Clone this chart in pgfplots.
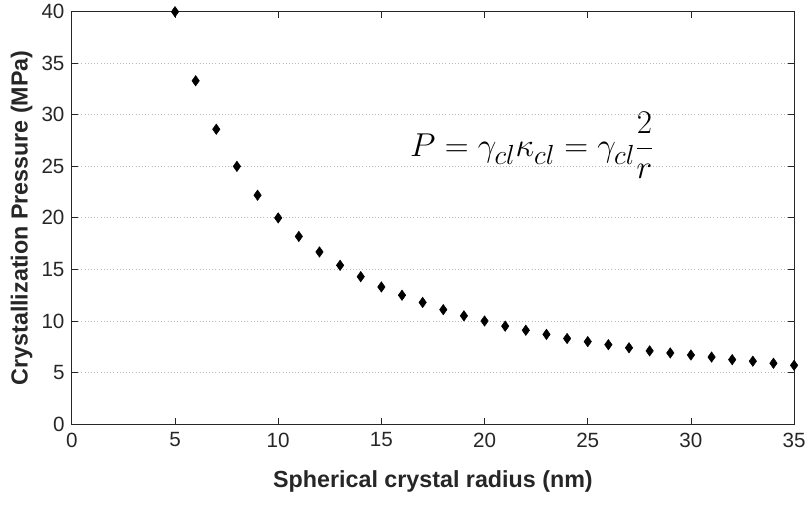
\documentclass[border=0pt]{standalone}
\usepackage{pgfplots}
\pgfplotsset{compat=1.18}
\usepackage{fontspec}
\setmainfont{Liberation Sans}
\definecolor{axgray}{RGB}{38,38,38}
\begin{document}
\begin{tikzpicture}
\begin{axis}[
  scale only axis,
  width=543pt, height=310pt,
  xmin=0, xmax=35, ymin=0, ymax=40,
  xtick={0,5,...,35}, ytick={0,5,...,40},
  tick align=inside,
  major tick length=4.5pt,
  axis line style={axgray, line width=0.6pt},
  tick style={axgray, line width=0.6pt},
  ymajorgrids,
  grid style={gray!55, dotted, line width=0.6pt},
  ticklabel style={font=\fontsize{15.5}{18}\selectfont, text=axgray},
  xticklabel style={yshift=-3pt},
  yticklabel style={xshift=-2pt},
  /pgf/number format/assume math mode=true,
  xlabel={\textbf{Spherical crystal radius (nm)}},
  ylabel={\textbf{Crystallization Pressure (MPa)}},
  label style={font=\fontsize{17.5}{20}\selectfont, text=axgray},
  xlabel style={yshift=-11pt},
  ylabel style={yshift=0pt},
  clip=false,
]
\addplot[only marks, mark=diamond*, mark size=3.9pt, mark options={fill=black, draw=black, xscale=0.95}] coordinates {
(5,40) (6,33.3) (7,28.6) (8,25) (9,22.2) (10,20) (11,18.2) (12,16.7) (13,15.4) (14,14.3)
(15,13.3) (16,12.5) (17,11.8) (18,11.1) (19,10.5) (20,10) (21,9.5) (22,9.1) (23,8.7) (24,8.3)
(25,8) (26,7.7) (27,7.4) (28,7.1) (29,6.9) (30,6.7) (31,6.5) (32,6.25) (33,6.1) (34,5.9) (35,5.7)
};
\node[anchor=center, font=\fontsize{31}{35}\selectfont] at (axis cs:22.3,27.0) {$\displaystyle P=\gamma_{cl}\kappa_{cl}=\gamma_{cl}\frac{2}{r}$};
\path (rel axis cs:0,0) ++(-54pt,-76pt) coordinate (bb);
\path[use as bounding box] (bb) rectangle ++(1pt,1pt);
\end{axis}
\end{tikzpicture}
\end{document}
